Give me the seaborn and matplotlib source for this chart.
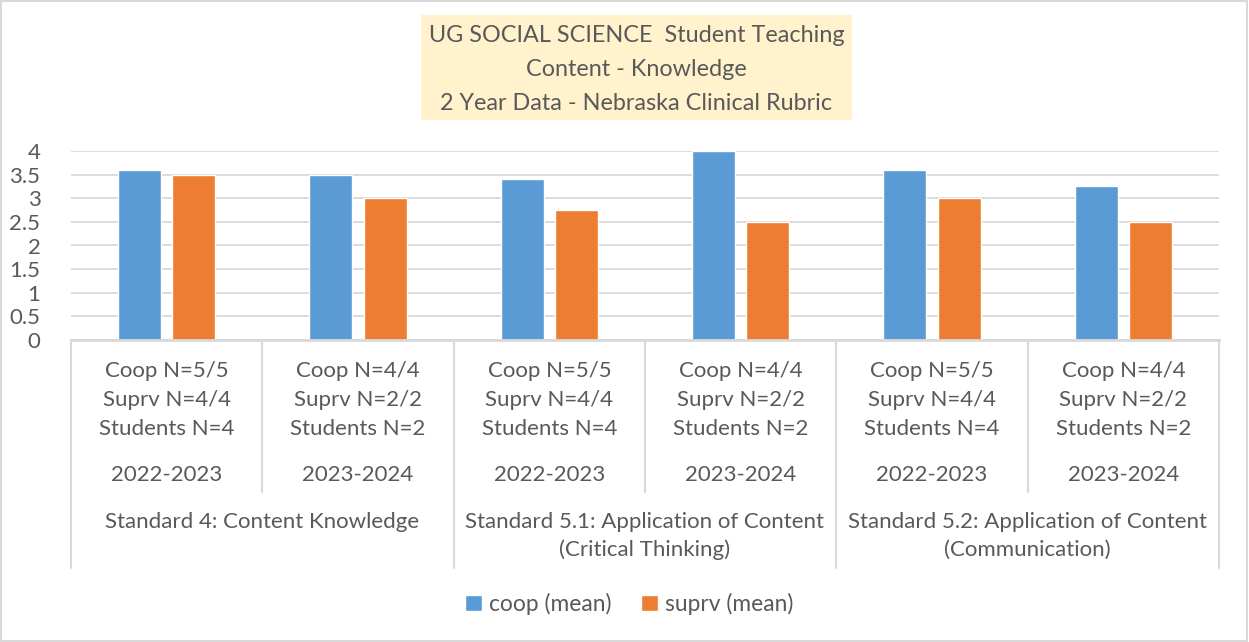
import pandas as pd
import matplotlib.pyplot as plt
import seaborn as sns
from matplotlib.patches import Rectangle
from matplotlib.transforms import blended_transform_factory

# chart data
groups = ['g1', 'g2', 'g3', 'g4', 'g5', 'g6']
coop_mean = [3.6, 3.5, 3.4, 4.0, 3.6, 3.25]
suprv_mean = [3.5, 3.0, 2.75, 2.5, 3.0, 2.5]
n_labels = [['Coop N=5/5', 'Suprv N=4/4', 'Students N=4'],
            ['Coop N=4/4', 'Suprv N=2/2', 'Students N=2']] * 3
years = ['2022-2023', '2023-2024'] * 3
standards = [['Standard 4: Content Knowledge'],
             ['Standard 5.1: Application of Content', '(Critical Thinking)'],
             ['Standard 5.2: Application of Content', '(Communication)']]
title_lines = ['UG SOCIAL SCIENCE  Student Teaching',
               'Content - Knowledge',
               '2 Year Data - Nebraska Clinical Rubric']

df = pd.DataFrame({'group': groups * 2,
                   'value': coop_mean + suprv_mean,
                   'series': ['coop (mean)'] * 6 + ['suprv (mean)'] * 6})

sns.set_style('white')
plt.rcParams['font.family'] = ['Lato', 'DejaVu Sans']
txt = '#595959'
grid_c = '#D9D9D9'
fs = 16

W, H = 1249, 642
fig = plt.figure(figsize=(W / 100, H / 100), dpi=100)
ax = fig.add_axes([71 / W, 1 - 340 / H, (1219 - 71) / W, (340 - 151) / H])

sns.barplot(data=df, x='group', y='value', hue='series', order=groups,
            palette=['#5B9BD5', '#ED7D31'], width=0.57, gap=0.21,
            saturation=1, ax=ax, legend=True)

ax.set_xlim(-0.5, 5.5)
ax.set_ylim(0, 4)
ax.set_yticks([0, 0.5, 1, 1.5, 2, 2.5, 3, 3.5, 4])
ax.set_yticklabels(['0', '0.5', '1', '1.5', '2', '2.5', '3', '3.5', '4'])
ax.tick_params(axis='y', length=0, pad=22, labelsize=fs, labelcolor=txt)
ax.set_xticks([])
ax.set_xlabel('')
ax.set_ylabel('')
ax.yaxis.grid(True, color=grid_c, lw=1.3)
ax.set_axisbelow(True)
for s in ['top', 'right', 'left']:
    ax.spines[s].set_visible(False)
ax.spines['bottom'].set_color(grid_c)
ax.spines['bottom'].set_linewidth(2)

# multi-level category axis
tr = blended_transform_factory(ax.transData, fig.transFigure)
def fy(py):
    return 1 - py / H

for i in range(7):
    x = i - 0.5
    bottom = 568 if i % 2 == 0 else 492
    ax.plot([x, x], [fy(340), fy(bottom)], color=grid_c, lw=1.5,
            transform=tr, clip_on=False)

for i, lines in enumerate(n_labels):
    for j, t in enumerate(lines):
        ax.text(i, fy(371 + 29 * j), t, transform=tr, ha='center', va='center',
                fontsize=fs, color=txt)
    ax.text(i, fy(475), years[i], transform=tr, ha='center', va='center',
            fontsize=fs, color=txt)

for k, lines in enumerate(standards):
    for j, t in enumerate(lines):
        ax.text(2 * k + 0.5, fy(522 + 28 * j), t, transform=tr, ha='center',
                va='center', fontsize=fs, color=txt)

# title box
fig.patches.append(Rectangle((421 / W, fy(120)), (852 - 421) / W, (120 - 15) / H,
                             transform=fig.transFigure, facecolor='#FFF2CC',
                             edgecolor='none', zorder=0))
for j, t in enumerate(title_lines):
    fig.text(636.5 / W, fy(36 + 33.5 * j), t, ha='center', va='center',
             fontsize=16.8, color=txt)

# outer border
fig.patches.append(Rectangle((0.001, 0.002), 0.997, 0.996, transform=fig.transFigure,
                             fill=False, edgecolor=grid_c, lw=1.5))

handles, labels = ax.get_legend_handles_labels()
ax.legend(handles, labels, loc='center', bbox_to_anchor=(629 / W, fy(604)),
          bbox_transform=fig.transFigure, ncol=2, frameon=False,
          handlelength=0.75, handleheight=0.75, handletextpad=0.3,
          columnspacing=1.3, fontsize=16.4, labelcolor=txt)

fig.savefig('out.png', dpi=100)
